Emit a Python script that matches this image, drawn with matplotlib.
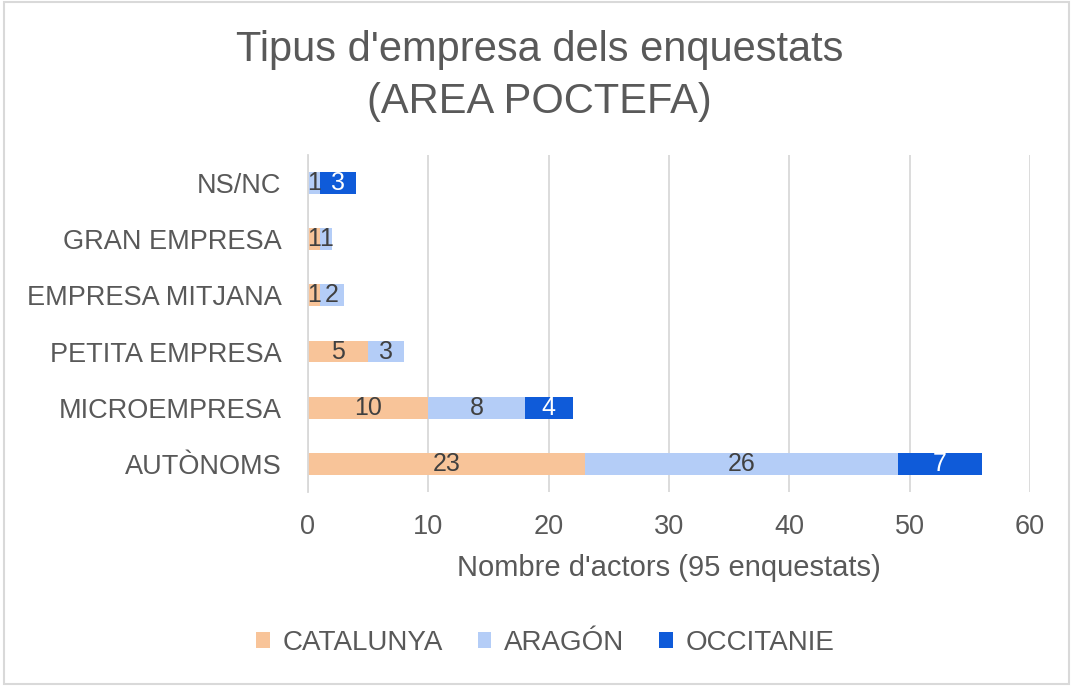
import matplotlib
matplotlib.use("Agg")
import matplotlib.pyplot as plt
from matplotlib.patches import Rectangle

plt.rcParams['font.family'] = ['Liberation Sans', 'DejaVu Sans']

categories = ["AUTÒNOMS", "MICROEMPRESA", "PETITA EMPRESA", "EMPRESA MITJANA", "GRAN EMPRESA", "NS/NC"]
series_names = ["CATALUNYA", "ARAGÓN", "OCCITANIE"]
catalunya = [23, 10, 5, 1, 1, 0]
aragon = [26, 8, 3, 2, 1, 1]
occitanie = [7, 4, 0, 0, 0, 3]
colors = ["#F8C499", "#B4CDF7", "#0F5BD9"]
label_colors = ["#404040", "#404040", "#FFFFFF"]

fig = plt.figure(figsize=(10.73, 6.86), dpi=100)
fig.patches.append(Rectangle((0.004, 0.003), 0.992, 0.994, transform=fig.transFigure,
                             fill=False, edgecolor="#D9D9D9", linewidth=1.5))
ax = fig.add_axes([0.287, 0.283, 0.673, 0.491])

y = list(range(len(categories)))
left = [0] * len(categories)
for vals, name, col, lc in zip([catalunya, aragon, occitanie], series_names, colors, label_colors):
    bars = ax.barh(y, vals, left=left, height=0.39, color=col, label=name)
    labels = [str(v) if v else "" for v in vals]
    ax.bar_label(bars, labels=labels, label_type='center', color=lc, fontsize=18)
    left = [l + v for l, v in zip(left, vals)]

ax.set_xlim(0, 60)
ax.set_ylim(-0.5, 5.5)
ax.set_xticks(range(0, 61, 10))
ax.set_yticks(y)
ax.set_yticklabels(categories)
ax.tick_params(axis='both', length=0, labelsize=19.5, labelcolor="#595959")
ax.tick_params(axis='y', pad=19)
ax.tick_params(axis='x', pad=16)
ax.grid(axis='x', color="#D9D9D9", linewidth=1.3)
ax.set_axisbelow(True)
for s in ["top", "right", "bottom"]:
    ax.spines[s].set_visible(False)
ax.spines["left"].set_color("#D9D9D9")
ax.spines["left"].set_linewidth(1.3)

ax.set_xlabel("Nombre d'actors (95 enquestats)", fontsize=21, color="#595959", labelpad=10)
fig.text(0.503, 0.927, "Tipus d'empresa dels enquestats", ha='center', va='center',
         fontsize=30, color="#595959")
fig.text(0.503, 0.851, "(AREA POCTEFA)", ha='center', va='center',
         fontsize=30, color="#595959")

fig.legend(loc='center', bbox_to_anchor=(0.508, 0.063), ncol=3, frameon=False,
           fontsize=20, labelcolor="#595959", handlelength=0.5, handleheight=0.5,
           columnspacing=1.25, handletextpad=0.45)

fig.savefig("out.png", dpi=100)
